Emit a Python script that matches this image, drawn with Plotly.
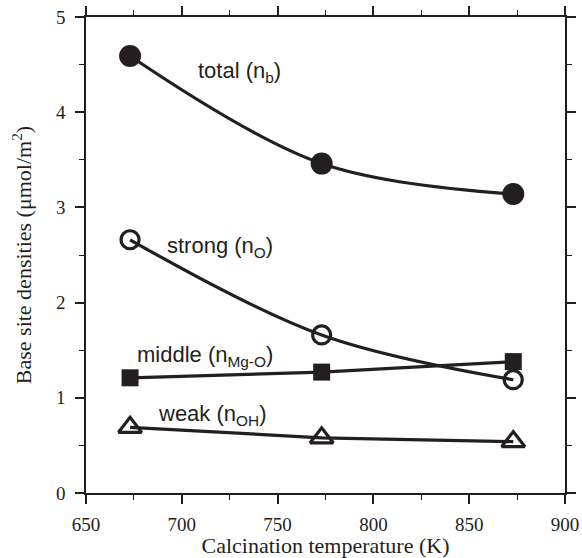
import plotly.graph_objects as go

temps = [673, 773, 873]
total = [4.59, 3.46, 3.14]
strong = [2.66, 1.66, 1.19]
middle = [1.21, 1.27, 1.38]
weak = [0.69, 0.58, 0.54]

x_ticks = [650, 700, 750, 800, 850, 900]
y_ticks = [0, 1, 2, 3, 4, 5]

fig = go.Figure()
blk = "#231f20"

fig.add_trace(go.Scatter(x=temps, y=total, mode="lines+markers",
    line=dict(color=blk, width=3.2, shape="spline", smoothing=1.0),
    marker=dict(symbol="circle", size=22, color=blk, line=dict(width=0))))
fig.add_trace(go.Scatter(x=temps, y=strong, mode="lines+markers",
    line=dict(color=blk, width=3.2, shape="spline", smoothing=1.0),
    marker=dict(symbol="circle-open", size=18, color=blk, line=dict(width=3.2))))
fig.add_trace(go.Scatter(x=temps, y=middle, mode="lines+markers",
    line=dict(color=blk, width=3.2),
    marker=dict(symbol="square", size=17, color=blk, line=dict(width=0))))
fig.add_trace(go.Scatter(x=temps, y=weak, mode="lines+markers",
    line=dict(color=blk, width=3.2),
    marker=dict(symbol="triangle-up-open", size=20, color=blk, line=dict(width=3.2))))

sans = dict(family="Liberation Sans, Arial", size=22, color=blk)
ann = [
    (730, 4.42, "total (n<sub>b</sub>)"),
    (720, 2.58, "strong (n<sub>O</sub>)"),
    (712, 1.44, "middle (n<sub>Mg-O</sub>)"),
    (716, 0.82, "weak (n<sub>OH</sub>)"),
]
for x, y, t in ann:
    fig.add_annotation(x=x, y=y, text=t, showarrow=False, font=sans,
                       xanchor="center", yanchor="middle")

axis_common = dict(
    showline=True, linecolor=blk, linewidth=1.6, mirror="ticks",
    ticks="outside", ticklen=9, tickwidth=1.6, tickcolor=blk,
    showgrid=False, zeroline=False, automargin=False,
    tickfont=dict(family="Liberation Serif, Times New Roman", size=19, color=blk),
    title_font=dict(family="Liberation Serif, Times New Roman", size=22, color=blk),
)

fig.update_xaxes(range=[650, 900], tickvals=x_ticks, ticktext=[str(v) for v in x_ticks],
                 minor=dict(dtick=25, tick0=650, ticks="outside", ticklen=5, tickwidth=1.4, tickcolor=blk),
                 title_text="Calcination temperature (K)", title_standoff=6,
                 ticklabelstandoff=4, **axis_common)
fig.update_yaxes(range=[0, 5], tickvals=y_ticks, ticktext=[str(v) for v in y_ticks],
                 minor=dict(dtick=0.5, tick0=0, ticks="outside", ticklen=5, tickwidth=1.4, tickcolor=blk),
                 title_text="Base site densities (μmol/m<sup>2</sup>)", title_standoff=18,
                 ticklabelstandoff=6, **axis_common)

fig.update_layout(width=582, height=558, margin=dict(l=86, r=17, t=17, b=65),
                  plot_bgcolor="white", paper_bgcolor="white", showlegend=False)

fig.write_html("out.html")
